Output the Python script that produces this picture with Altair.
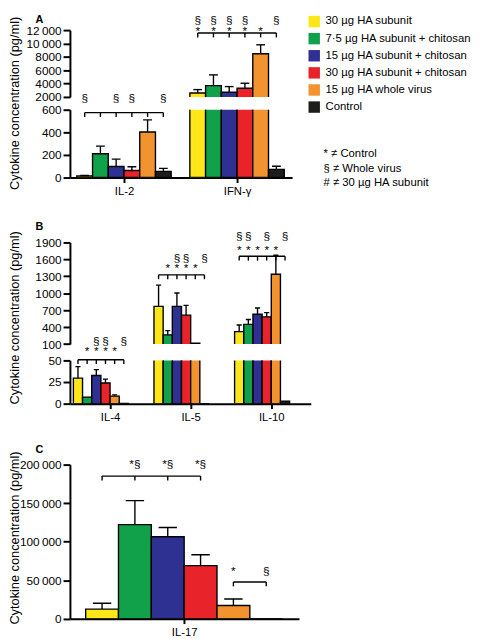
import altair as alt
import pandas as pd

# ---------------- data ----------------
series = ["30 µg HA subunit", "7·5 µg HA subunit + chitosan", "15 µg HA subunit + chitosan",
          "30 µg HA subunit + chitosan", "15 µg HA whole virus", "Control"]
colors = ["#ffe619", "#12a14b", "#2e3192", "#e8232a", "#f3932f", "#1d1d1b"]

cytokines = ["IL-2", "IFN-γ", "IL-4", "IL-5", "IL-10", "IL-17"]
means = {
    "IL-2": [15, 211, 98, 63, 403, 55],
    "IFN-γ": [2600, 3700, 2700, 3300, 8470, 72],
    "IL-4": [29.5, 7.6, 32.6, 23.9, 8.7, 0.4],
    "IL-5": [768, 264, 768, 612, 115, 0],
    "IL-10": [321, 448, 629, 582, 1336, 3],
    "IL-17": [12400, 122100, 106300, 68900, 17000, 0],
}
errors = {
    "IL-2": [3, 67, 65, 33, 107, 26],
    "IFN-γ": [500, 1600, 850, 750, 1330, 28],
    "IL-4": [13.3, 0, 6.8, 4.5, 1.5, 0],
    "IL-5": [377, 74, 237, 174, 0, 0],
    "IL-10": [117, 87, 110, 75, 338, 0],
    "IL-17": [7600, 31100, 12000, 14100, 8500, 0],
}

# significance symbol rows (one string per bar)
sig_cytokine = ["IL-2", "IFN-γ", "IFN-γ", "IL-4", "IL-4", "IL-5", "IL-5",
                "IL-10", "IL-10", "IL-17", "IL-17"]
sig_level = [704, 13500, 11900, 72, 61, 1627, 1440, 2005, 1771, 200400, 61300]
sig_marks = [
    ["§", "", "§", "§", "", "§"],
    ["§", "§", "§", "§", "", "§"],
    ["*", "*", "*", "*", "*", ""],
    ["", "", "§", "§", "", "§"],
    ["", "*", "*", "*", "*", ""],
    ["", "", "§", "§", "", "§"],
    ["", "*", "*", "*", "*", ""],
    ["§", "§", "", "§", "", "§"],
    ["*", "*", "*", "*", "*", ""],
    ["", "*§", "*§", "*§", "", ""],
    ["", "", "", "", "*", "§"],
]

# comparison brackets
brk_cytokine = ["IL-2", "IFN-γ", "IL-4", "IL-5", "IL-10", "IL-17", "IL-17"]
brk_first = [0, 0, 0, 0, 0, 0, 4]
brk_last = [5, 5, 5, 5, 5, 3, 5]
brk_level = [574, 11560, 50.8, 1326, 1656, 185000, 47600]

y_title = "Cytokine concentration (pg/ml)"
footnote = ["* ≠ Control", "§ ≠ Whole virus", "# ≠ 30 µg HA subunit"]

# ---------------- layout ----------------
FONT = "Liberation Sans"
PANELS = {
    "A": dict(cyts=["IL-2", "IFN-γ"], width=226, start=[7, 122], bw=16, tick_bar=3),
    "B": dict(cyts=["IL-4", "IL-5", "IL-10"], width=245, start=[3.5, 85.5, 167.5], bw=9.33, tick_bar=4),
    "C": dict(cyts=["IL-17"], width=233, start=[16], bw=33.4, tick_bar=3),
}
# which sub-plot carries the annotations of each cytokine
ANN_PART = {"IL-2": "A-low", "IFN-γ": "A-up", "IL-4": "B-low", "IL-5": "B-up",
            "IL-10": "B-up", "IL-17": "C"}

pos = {}
for p, cfg in PANELS.items():
    for k, c in enumerate(cfg["cyts"]):
        pos[c] = (p, cfg["start"][k], cfg["bw"])

rows = []
for c in cytokines:
    p, st, bw = pos[c]
    for i, s in enumerate(series):
        x0 = st + bw * i
        xc = x0 + bw / 2
        cap = bw * 0.28
        rows.append(dict(panel=p, cyt=c, series=s, mean=means[c][i], err=errors[c][i],
                         top=means[c][i] + errors[c][i], x0=x0, x1=x0 + bw, xc=xc,
                         c0=xc - cap, c1=xc + cap, base=0))
bars_df = pd.DataFrame(rows)


def centre(c, i):
    p, st, bw = pos[c]
    return st + bw * (i + 0.5)


sig_rows = []
for c, lv, marks in zip(sig_cytokine, sig_level, sig_marks):
    for i, m in enumerate(marks):
        if m:
            sig_rows.append(dict(part=ANN_PART[c], xc=centre(c, i), level=lv, mark=m))
sig_df = pd.DataFrame(sig_rows)

brk_rows, tick_rows = [], []
for c, a, b, lv in zip(brk_cytokine, brk_first, brk_last, brk_level):
    brk_rows.append(dict(part=ANN_PART[c], x0=centre(c, a), x1=centre(c, b), level=lv))
    for i in range(a, b + 1):
        tick_rows.append(dict(part=ANN_PART[c], xc=centre(c, i), level=lv))
brk_df = pd.DataFrame(brk_rows)
tick_df = pd.DataFrame(tick_rows)

Y_FMT = ("datum.value >= 10000 ? replace(format(datum.value, ','), ',', '\u2009') "
         ": format(datum.value, 'd')")

color_enc = alt.Color("series:N", scale=alt.Scale(domain=series, range=colors), legend=None)


def x_label_expr(ticks, names):
    expr = f"'{names[-1]}'"
    for t0, t1, n in reversed(list(zip(ticks[:-1], ticks[1:], names[:-1]))):
        expr = f"datum.value < {(t0 + t1) / 2} ? '{n}' : " + expr
    return expr


def subplot(panel, part, lo, hi, h, yticks, bottom, title_y=None, letter=None, extra=None):
    cfg = PANELS[panel]
    W = cfg["width"]
    independent = extra is not None
    xs = alt.Scale(domain=[0, W], nice=False, zero=False)
    ys = alt.Scale(domain=[lo, hi], nice=False, zero=False)
    if bottom:
        xt = [st + cfg["bw"] * cfg["tick_bar"] for st in cfg["start"]]
        xaxis = alt.Axis(values=xt, labelExpr=x_label_expr(xt, cfg["cyts"]), title=None,
                         grid=False, tickSize=5, labelPadding=3, labelFontSize=11.5,
                         labelAngle=0)
    else:
        xaxis = None
    ykw = dict(values=yticks, labelExpr=Y_FMT, grid=False, tickSize=7, labelPadding=2,
               labelFontSize=12)
    if title_y is not None:
        ykw.update(title=y_title, titleX=-52.7, titleY=title_y, titleAngle=270,
                   titleBaseline="alphabetic", titleFontSize=13, titleFontWeight="normal")
    else:
        ykw.update(title=None)
    yaxis = alt.Axis(**ykw)

    def X(f):
        return alt.X(f"{f}:Q", scale=xs, axis=xaxis)

    def Y(f, main=False):
        if main or not independent:
            return alt.Y(f"{f}:Q", scale=ys, axis=yaxis)
        return alt.Y(f"{f}:Q", scale=ys, axis=None)

    bdf = bars_df[bars_df.panel == panel]
    edf = bdf[bdf.err > 0]
    layers = [
        alt.Chart(bdf).mark_rect(clip=True, stroke="black", strokeWidth=1.4).encode(
            x=X("x0"), x2="x1:Q", y=Y("mean", True), y2="base:Q", color=color_enc),
        alt.Chart(edf).mark_rule(clip=True, color="black", strokeWidth=1.4).encode(
            x=X("xc"), y=Y("mean"), y2="top:Q"),
        alt.Chart(edf).mark_rule(clip=True, color="black", strokeWidth=1.4).encode(
            x=X("c0"), x2="c1:Q", y=Y("top")),
    ]
    kd = brk_df[brk_df.part == part]
    if len(kd):
        layers.append(alt.Chart(kd).mark_rule(color="black", strokeWidth=1.4).encode(
            x=X("x0"), x2="x1:Q", y=Y("level")))
        td = tick_df[tick_df.part == part]
        layers.append(alt.Chart(td).mark_tick(orient="vertical", color="black", size=4.5,
                                              thickness=1.4, yOffset=2.2, opacity=1).encode(
            x=X("xc"), y=Y("level")))
    sd = sig_df[sig_df.part == part]
    if len(sd):
        layers.append(alt.Chart(sd).mark_text(fontSize=12, baseline="middle", color="black",
                                              font=FONT).encode(
            x=X("xc"), y=Y("level"), text="mark:N"))
    if letter is not None:
        layers.append(alt.Chart(pd.DataFrame({"t": [letter[0]]})).mark_text(
            fontSize=11, fontWeight="bold", align="left", baseline="alphabetic",
            color="black", font=FONT).encode(
            x=alt.value(letter[1]), y=alt.value(letter[2]), text="t:N"))
    if extra is not None:
        layers.extend(extra)
    out = alt.layer(*layers).properties(width=W, height=h)
    if independent:
        out = out.resolve_scale(y="independent")
    return out


def spacer(h):
    return alt.Chart(pd.DataFrame({"a": [0]})).mark_point(opacity=0, size=1).encode(
        x=alt.value(0), y=alt.value(0)).properties(width=1, height=h)


# legend drawn as marks (squares + labels) placed by a point scale
leg_df = pd.DataFrame({"series": series})
leg_y = alt.Y("series:N", scale=alt.Scale(domain=series, range=[-8.7, 78.3], padding=0),
              axis=None)
leg_sq = alt.Chart(leg_df).mark_square(size=135, opacity=1).encode(
    x=alt.value(248.5), y=leg_y, color=color_enc)
leg_tx = alt.Chart(leg_df).mark_text(align="left", baseline="middle", fontSize=11.5,
                                     color="black", font=FONT).encode(
    x=alt.value(260), y=leg_y, text="series:N")

foot = alt.Chart(pd.DataFrame({"t": ["\n".join(footnote)]})).mark_text(
    align="left", baseline="top", lineBreak="\n", fontSize=11.5, lineHeight=14.5,
    color="black", font=FONT).encode(x=alt.value(258), y=alt.value(120.5), text="t:N")

A_up = subplot("A", "A-up", 2000, 12000, 68, [2000, 4000, 6000, 8000, 10000, 12000], False,
               letter=("A", -35, -7.5), extra=[leg_sq, leg_tx, foot])
A_low = subplot("A", "A-low", 0, 600, 69, [0, 200, 400, 600], True, title_y=-7)
B_up = subplot("B", "B-up", 100, 1900, 103.4, [100, 400, 700, 1000, 1300, 1600, 1900], False,
               title_y=76.2, letter=("B", -35, -12.6))
B_low = subplot("B", "B-low", 0, 50, 44, [0, 25, 50], True)
C = subplot("C", "C", 0, 200000, 156.7, [0, 50000, 100000, 150000, 200000], True,
            title_y=74.2, letter=("C", -35, -11.6))

chart = alt.vconcat(
    A_up, spacer(13), A_low, spacer(65.3), B_up, spacer(15.3), B_low, spacer(61.3), C,
    spacing=0, bounds="flush"
).properties(
    padding=0
).configure(font=FONT).configure_view(stroke=None, strokeWidth=0).configure_axis(
    domainColor="black", domainWidth=2, tickColor="black", tickWidth=2,
    labelColor="black", labelFont=FONT, titleColor="black", titleFont=FONT
)

chart.save("out.html", embed_options={"renderer": "svg", "actions": False})
